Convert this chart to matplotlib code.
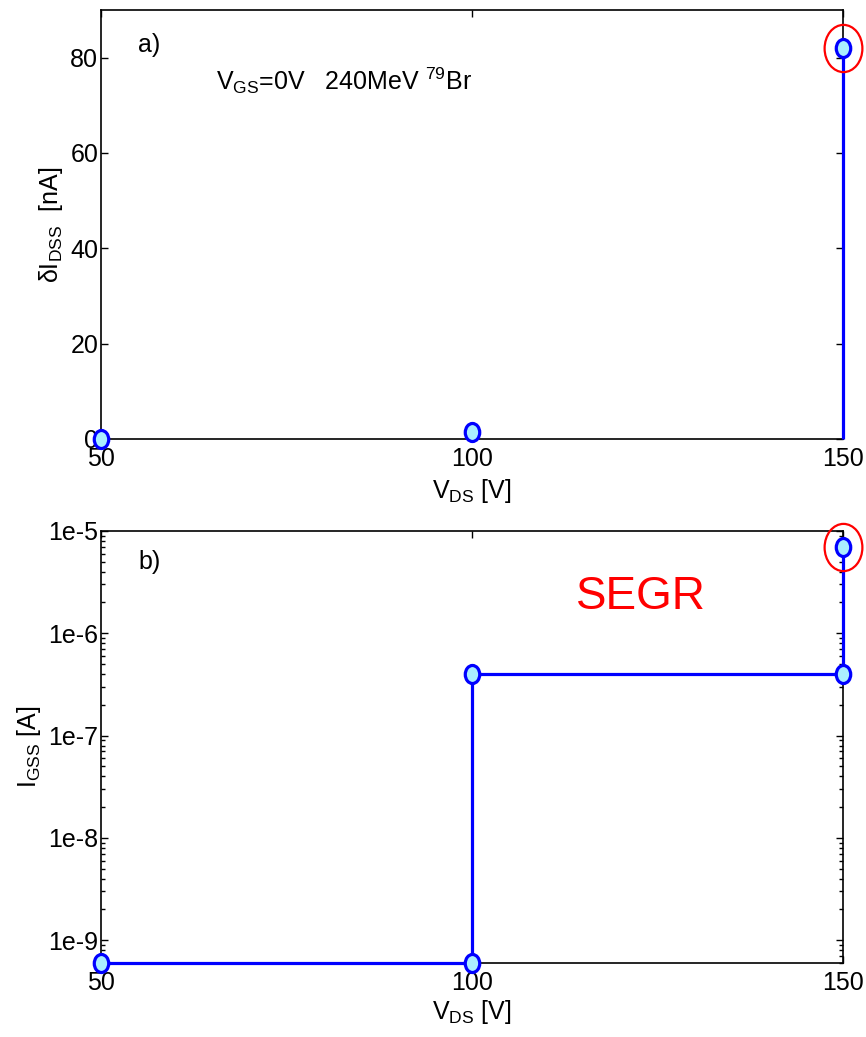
import numpy as np
import matplotlib
matplotlib.use("Agg")
import matplotlib.pyplot as plt
from matplotlib.path import Path
from matplotlib.ticker import FixedLocator, FuncFormatter, LogLocator

plt.rcParams['font.family'] = ['Liberation Sans Narrow', 'Liberation Sans', 'DejaVu Sans']
plt.rcParams['mathtext.fontset'] = 'custom'
plt.rcParams['mathtext.rm'] = 'Liberation Sans'
plt.rcParams['mathtext.it'] = 'Liberation Sans'
plt.rcParams['mathtext.default'] = 'regular'
plt.rcParams['font.size'] = 18

# panel a: drain leakage increase vs drain voltage
vds_a = [50, 100, 150]
didss = [0, 1.5, 82]

# panel b: gate leakage vs drain voltage (step trace)
vds_b = [50, 100, 100, 150, 150]
igss = [6e-10, 6e-10, 4e-7, 4e-7, 7e-6]

xticks = [50, 100, 150]
yticks_a = [0, 20, 40, 60, 80]

# slightly squashed circle marker
circ = Path.unit_circle()
oval = Path(circ.vertices * np.array([0.8, 1.0]), circ.codes)

blue = '#0000ff'
face = '#aaeeff'

fig = plt.figure(figsize=(8.66, 10.37), dpi=100)
ax1 = fig.add_axes([0.1166, 0.5767, 0.8568, 0.4137])
ax2 = fig.add_axes([0.1166, 0.0714, 0.8568, 0.4166])

for ax in (ax1, ax2):
    ax.set_xlim(50, 150)
    ax.xaxis.set_major_locator(FixedLocator(xticks))
    ax.tick_params(which='both', direction='in', top=True, right=True, width=1)
    ax.tick_params(which='major', length=5, pad=2)
    ax.tick_params(which='minor', length=3)
    ax.tick_params(axis='x', pad=6)
    for s in ax.spines.values():
        s.set_linewidth(1.2)

# --- a) ---
ax1.set_ylim(0, 90)
ax1.yaxis.set_major_locator(FixedLocator(yticks_a))
ax1.vlines(vds_a[-1], 0, didss[-1], color=blue, lw=2.3, zorder=3, clip_on=False)
ax1.plot(vds_a, didss, ls='none', marker=oval, ms=13, mfc=face, mec=blue,
         mew=2.3, zorder=4, clip_on=False)
ax1.plot(vds_a[-1], didss[-1], ls='none', marker=oval, ms=34, mfc='none',
         mec='red', mew=1.6, zorder=5, clip_on=False)
ax1.set_xlabel('$V_{DS}$ [V]', labelpad=4)
ax1.set_ylabel(r'$\delta I_{D S S}$  [nA]', labelpad=4)
ax1.text(0.05, 0.918, 'a)', transform=ax1.transAxes, va='center', ha='left')
ax1.text(0.155, 0.835, '$V_{GS}$=0V   240MeV $^{79}$Br', transform=ax1.transAxes,
         va='center', ha='left')

# --- b) ---
ax2.set_yscale('log')
ax2.set_ylim(min(igss), 1e-5)
ax2.yaxis.set_major_locator(LogLocator(base=10, numticks=10))
ax2.yaxis.set_major_formatter(FuncFormatter(lambda v, p: '1e%d' % round(np.log10(v))))
ax2.plot(vds_b, igss, color=blue, lw=2.3, marker=oval, ms=13, mfc=face,
         mec=blue, mew=2.3, zorder=4, clip_on=False)
ax2.plot(vds_b[-1], igss[-1], ls='none', marker=oval, ms=34, mfc='none',
         mec='red', mew=1.6, zorder=5, clip_on=False)
ax2.set_xlabel('$V_{DS}$ [V]', labelpad=2)
ax2.set_ylabel('$I_{G S S}$ [A]', labelpad=4)
ax2.text(0.05, 0.928, 'b)', transform=ax2.transAxes, va='center', ha='left')
ax2.text(0.728, 0.847, 'SEGR', transform=ax2.transAxes, va='center',
         ha='center', color='red', fontsize=33)

fig.savefig('out.png', dpi=100, facecolor='white')
